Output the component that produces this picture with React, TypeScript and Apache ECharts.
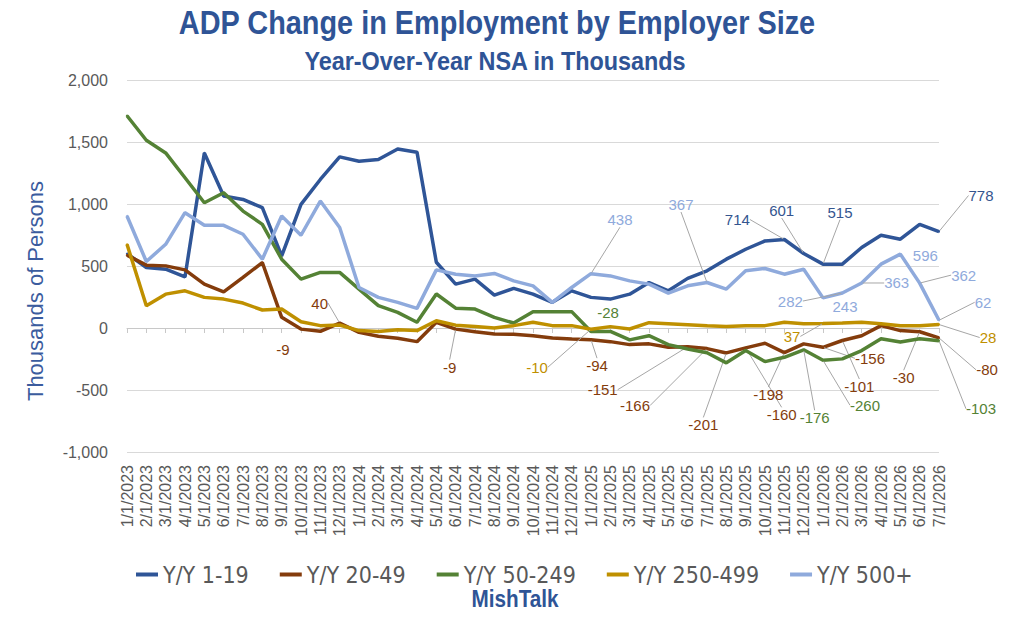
import React, { useEffect, useRef } from "react";
import * as echarts from "echarts";

const categories = [
  "1/1/2023", "2/1/2023", "3/1/2023", "4/1/2023", "5/1/2023", "6/1/2023", "7/1/2023", "8/1/2023", "9/1/2023", "10/1/2023", "11/1/2023", "12/1/2023",
  "1/1/2024", "2/1/2024", "3/1/2024", "4/1/2024", "5/1/2024", "6/1/2024", "7/1/2024", "8/1/2024", "9/1/2024", "10/1/2024", "11/1/2024", "12/1/2024",
  "1/1/2025", "2/1/2025", "3/1/2025", "4/1/2025", "5/1/2025", "6/1/2025", "7/1/2025", "8/1/2025", "9/1/2025", "10/1/2025", "11/1/2025", "12/1/2025",
  "1/1/2026", "2/1/2026", "3/1/2026", "4/1/2026", "5/1/2026", "6/1/2026", "7/1/2026",
];

const seriesNames = ["Y/Y 1-19", "Y/Y 20-49", "Y/Y 50-249", "Y/Y 250-499", "Y/Y 500+"];

const size1to19 = [
  600, 488, 474, 412, 1412, 1064, 1037, 970, 581, 997, 1198, 1380,
  1345, 1359, 1444, 1418, 530, 354, 394, 265, 319, 273, 207, 300,
  247, 233, 273, 367, 300, 400, 461, 555, 635, 702, 714, 601,
  515, 515, 649, 748, 716, 836, 778,
];

const size20to49 = [
  587, 507, 501, 469, 354, 292, 408, 528, 86, -9, -27, 40,
  -35, -67, -83, -110, 46, -9, -30, -48, -51, -62, -80, -88,
  -94, -110, -134, -128, -155, -151, -166, -201, -160, -123, -198, -128,
  -156, -101, -62, 19, -21, -30, -80,
];

const size50to249 = [
  1712, 1514, 1412, 1212, 1010, 1091, 943, 836, 555, 394, 448, 448,
  314, 180, 126, 46, 274, 160, 153, 86, 40, 131, 132, 132,
  -28, -28, -96, -62, -134, -169, -200, -281, -182, -271, -236, -176,
  -260, -249, -182, -86, -113, -86, -103,
];

const size250to499 = [
  675, 180, 273, 300, 247, 233, 201, 145, 153, 51, 19, 24,
  -21, -28, -14, -21, 59, 23, 13, 0, 19, 46, 19, 19,
  -10, 11, -8, 43, 35, 27, 19, 13, 19, 19, 46, 35,
  37, 40, 46, 35, 19, 19, 28,
];

const size500plus = [
  903, 536, 675, 930, 828, 828, 756, 555, 903, 748, 1024, 810,
  327, 247, 207, 158, 469, 434, 420, 440, 380, 340, 207, 327,
  438, 420, 380, 354, 281, 340, 367, 314, 461, 480, 434, 474,
  243, 282, 363, 515, 596, 362, 62,
];

const yTicks = { min: -1000, max: 2000, interval: 500 };

// label placement: dataIndex -> [dx, dy, leader line]
type Spot = [number, number, boolean];
const spots1to19: Record<number, Spot> = {
  34: [-47, -20, true], 35: [-22, -43, true], 36: [17, -52, true], 42: [42, -36, true],
};
const spots20to49: Record<number, Spot> = {
  9: [-18, 20, false], 11: [-20, -20, true], 17: [-6, 38, true], 24: [6, 26, true],
  29: [-85, 43, true], 30: [-72, 57, true], 31: [-23, 72, true], 32: [36, 67, true],
  34: [-16, 42, true], 36: [47, 11, true], 37: [17, 46, true], 41: [-16, 46, true], 42: [48, 32, true],
};
const spots50to249: Record<number, Spot> = {
  24: [17, -19, false], 35: [11, 68, true], 36: [42, 45, true], 42: [42, 68, true],
};
const spots250to499: Record<number, Spot> = {
  24: [-54, 38, true], 36: [-31, 13, true], 42: [49, 13, true],
};
const spots500plus: Record<number, Spot> = {
  24: [29, -54, true], 30: [-26, -78, true], 36: [22, 9, false], 37: [-52, 8, true],
  38: [35, 0, true], 40: [25, 1, false], 41: [44, -8, true], 42: [44, -18, true],
};

const CONDENSED = "'DejaVu Sans Condensed', 'Liberation Sans Narrow', sans-serif";
const SANS = "'Liberation Sans', Arial, sans-serif";
const TITLE_BLUE = "#2F5496";
const GRAY = "#595959";

export default function App() {
  const ref = useRef<HTMLDivElement>(null);

  useEffect(() => {
    document.body.style.margin = "0";
    const chart = echarts.init(ref.current as HTMLDivElement, null, { renderer: "svg" });

    const defs = [
      { name: seriesNames[0], values: size1to19, color: "#2F5597", label: "#34558F", spots: spots1to19 },
      { name: seriesNames[1], values: size20to49, color: "#843C0C", label: "#843C0C", spots: spots20to49 },
      { name: seriesNames[2], values: size50to249, color: "#548235", label: "#548235", spots: spots50to249 },
      { name: seriesNames[3], values: size250to499, color: "#BF9000", label: "#BF9000", spots: spots250to499 },
      { name: seriesNames[4], values: size500plus, color: "#8FAADC", label: "#8FAADC", spots: spots500plus },
    ];

    const series = defs.map((d, si) => ({
      name: d.name,
      type: "line",
      xAxisIndex: 0,
      yAxisIndex: 0,
      z: 2 + si,
      color: d.color,
      data: d.values.map((v, i) =>
        d.spots[i]
          ? { value: v, label: { show: true }, labelLine: { show: d.spots[i][2] } }
          : v
      ),
      lineStyle: { color: d.color, width: 3.5 },
      itemStyle: { color: d.color },
      symbol: "circle",
      symbolSize: 2,
      showSymbol: true,
      showAllSymbol: true,
      emphasis: { disabled: true },
      label: { show: false, color: d.label, fontSize: 15, fontFamily: SANS },
      labelLine: { show: true, lineStyle: { color: "#A6A6A6", width: 1 } },
      labelLayout: (p: any) => {
        const s = d.spots[p.dataIndex];
        if (!s) return {};
        const cx = p.rect.x + p.rect.width / 2;
        const cy = p.rect.y + p.rect.height / 2;
        return { x: cx + s[0], y: cy + s[1], align: "center", verticalAlign: "middle" };
      },
    }));

    const option = {
      animation: false,
      backgroundColor: "#FFFFFF",
      grid: { left: 127, right: 85, top: 80, bottom: 191, containLabel: false },
      xAxis: [
        {
          type: "category",
          data: categories,
          boundaryGap: false,
          position: "bottom",
          axisLine: { show: false, onZero: false },
          axisTick: { show: false },
          splitLine: { show: false },
          axisLabel: { rotate: 90, interval: 0, fontSize: 16, color: GRAY, fontFamily: SANS, margin: 13 },
        },
        {
          type: "category",
          data: categories,
          boundaryGap: false,
          position: "bottom",
          axisLine: { show: true, onZero: true, lineStyle: { color: "#C8C8C8", width: 1 } },
          axisTick: { show: true, length: 5, interval: 0, lineStyle: { color: "#C8C8C8" } },
          axisLabel: { show: false },
          splitLine: { show: false },
        },
      ],
      yAxis: {
        type: "value",
        min: yTicks.min,
        max: yTicks.max,
        interval: yTicks.interval,
        axisLine: { show: false },
        axisTick: { show: false },
        splitLine: { lineStyle: { color: "#D9D9D9", width: 1 } },
        axisLabel: {
          fontSize: 16,
          color: GRAY,
          fontFamily: SANS,
          margin: 19,
          formatter: (v: number) => v.toLocaleString("en-US"),
        },
      },
      legend: {
        data: seriesNames,
        left: 131,
        top: 558,
        icon: "rect",
        itemWidth: 22,
        itemHeight: 4,
        itemGap: 31,
        textStyle: { fontSize: 23, color: GRAY, fontFamily: CONDENSED },
      },
      graphic: [
        {
          type: "text",
          x: 497,
          y: 23,
          scaleX: 0.875,
          style: { text: "ADP Change in Employment by Employer Size", fill: TITLE_BLUE, fontSize: 33, fontWeight: "bold", fontFamily: SANS, align: "center", verticalAlign: "middle" },
        },
        {
          type: "text",
          x: 495,
          y: 61,
          scaleX: 0.9,
          style: { text: "Year-Over-Year NSA in Thousands", fill: TITLE_BLUE, fontSize: 26, fontWeight: "bold", fontFamily: SANS, align: "center", verticalAlign: "middle" },
        },
        {
          type: "text",
          x: 515,
          y: 599,
          scaleX: 0.9,
          style: { text: "MishTalk", fill: TITLE_BLUE, fontSize: 23, fontWeight: "bold", fontFamily: SANS, align: "center", verticalAlign: "middle" },
        },
        {
          type: "text",
          x: 35,
          y: 291,
          rotation: Math.PI / 2,
          style: { text: "Thousands of Persons", fill: "#3B5C9E", fontSize: 22, fontFamily: SANS, align: "center", verticalAlign: "middle" },
        },
      ],
      series,
    };

    chart.setOption(option as any);
    return () => chart.dispose();
  }, []);

  return <div ref={ref} style={{ width: 1024, height: 643 }} />;
}
